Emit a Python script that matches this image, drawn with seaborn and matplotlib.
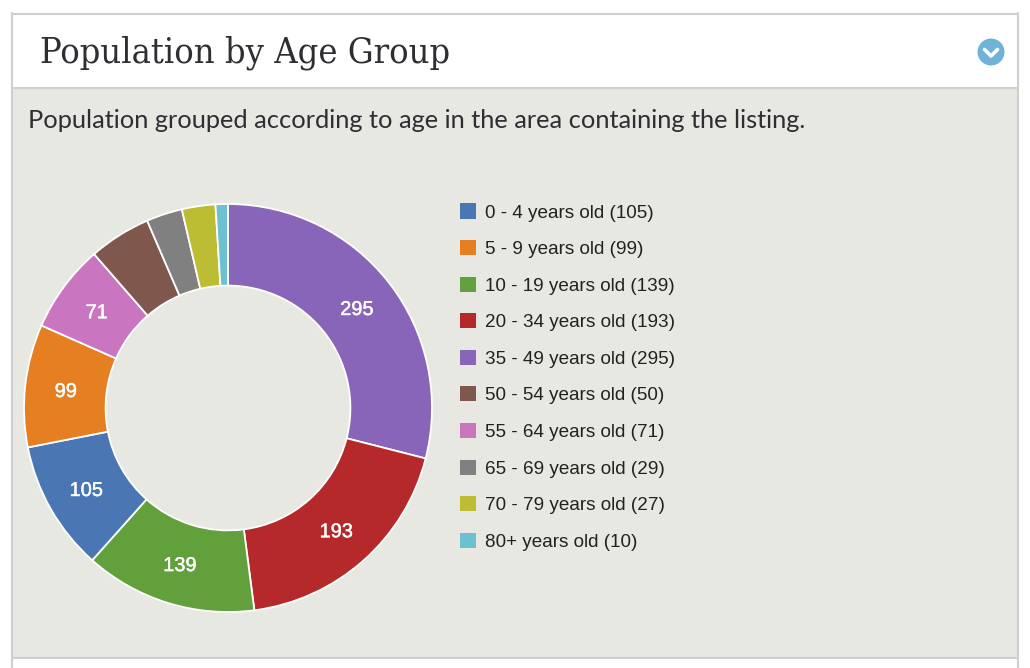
import matplotlib
matplotlib.use("Agg")
import matplotlib.pyplot as plt
import matplotlib.patheffects as pe
from matplotlib.patches import Rectangle, Circle, Patch
import seaborn as sns

age_groups = ["0 - 4 years old", "5 - 9 years old", "10 - 19 years old", "20 - 34 years old",
              "35 - 49 years old", "50 - 54 years old", "55 - 64 years old", "65 - 69 years old",
              "70 - 79 years old", "80+ years old"]
population = [105, 99, 139, 193, 295, 50, 71, 29, 27, 10]
colors = ["#4a77b4", "#e67f22", "#61a03a", "#b6292b", "#8865b8",
          "#80574c", "#ca75c0", "#808080", "#bcbd33", "#6cc0cf"]
title = "Population by Age Group"
subtitle = "Population grouped according to age in the area containing the listing."

W, H = 1030, 668
panel_bg = "#e7e8e2"
border = "#cfcfcf"
text_dark = "#2e2e33"

sns.set_theme(style="white")
sns.set_palette(colors)
plt.rcParams["font.family"] = ["Liberation Sans", "DejaVu Sans"]

fig = plt.figure(figsize=(W / 100, H / 100), dpi=100, facecolor="white")

# page chrome, in pixel coords
bg = fig.add_axes([0, 0, 1, 1])
bg.set_xlim(0, W)
bg.set_ylim(H, 0)
bg.axis("off")
bg.add_patch(Rectangle((12, 87), 1005, 571, fc=panel_bg, ec="none"))
bg.plot([12, 1017], [13.5, 13.5], color=border, lw=1.5)
bg.plot([12, 1017], [87.5, 87.5], color=border, lw=1.5)
bg.plot([12, 1017], [658, 658], color=border, lw=1.5)
bg.plot([12, 12], [13, 668], color=border, lw=1.5)
bg.plot([1017.5, 1017.5], [13, 668], color=border, lw=1.5)

bg.text(40, 62, title, family="DejaVu Serif", stretch="condensed", fontsize=25.9, color=text_dark,
        va="baseline", ha="left")
bg.text(28, 120, subtitle, family="Lato", fontsize=18.25, color=text_dark, va="center", ha="left")

# collapse icon
bg.add_patch(Circle((991, 52), 13.5, fc="#6fb4d8", ec="none"))
bg.plot([984.5, 991, 997.5], [49.5, 56, 49.5], color="white", lw=2.6, solid_capstyle="round")

# donut, largest slices first from 12 o'clock
order = sorted(range(len(population)), key=lambda i: population[i], reverse=True)
values = [population[i] for i in order]
slice_colors = [colors[i] for i in order]
total = sum(values)


def slice_label(pct):
    v = round(pct * total / 100)
    return str(v) if v >= 71 else ""


ax = fig.add_axes([24 / W, 1 - 612 / H, 408 / W, 408 / H])
wedges, _, autotexts = ax.pie(
    values,
    colors=slice_colors,
    startangle=90,
    counterclock=False,
    radius=1,
    autopct=slice_label,
    pctdistance=0.8,
    wedgeprops=dict(width=0.4, edgecolor="white", linewidth=1.3),
    textprops=dict(color="white", fontsize=14.4),
)
ax.set_xlim(-1, 1)
ax.set_ylim(-1, 1)

# labels sit a touch lower and heavier in the original
for t in autotexts:
    x, y = t.get_position()
    t.set_position((x, y - 0.008))
    t.set_path_effects([pe.withStroke(linewidth=0.3, foreground="white")])

# legend keeps the age order
handles = [Patch(fc=c, ec="none") for c in colors]
labels = [f"{a} ({p})" for a, p in zip(age_groups, population)]
bg.legend(
    handles, labels,
    loc="upper left",
    bbox_to_anchor=(460, 203.5),
    bbox_transform=bg.transData,
    frameon=False,
    fontsize=13.6,
    labelcolor="#222222",
    handlelength=0.85,
    handleheight=0.85,
    handletextpad=0.48,
    labelspacing=0.98,
    borderpad=0,
    borderaxespad=0,
)

fig.savefig("out.png", dpi=100, facecolor="white")
